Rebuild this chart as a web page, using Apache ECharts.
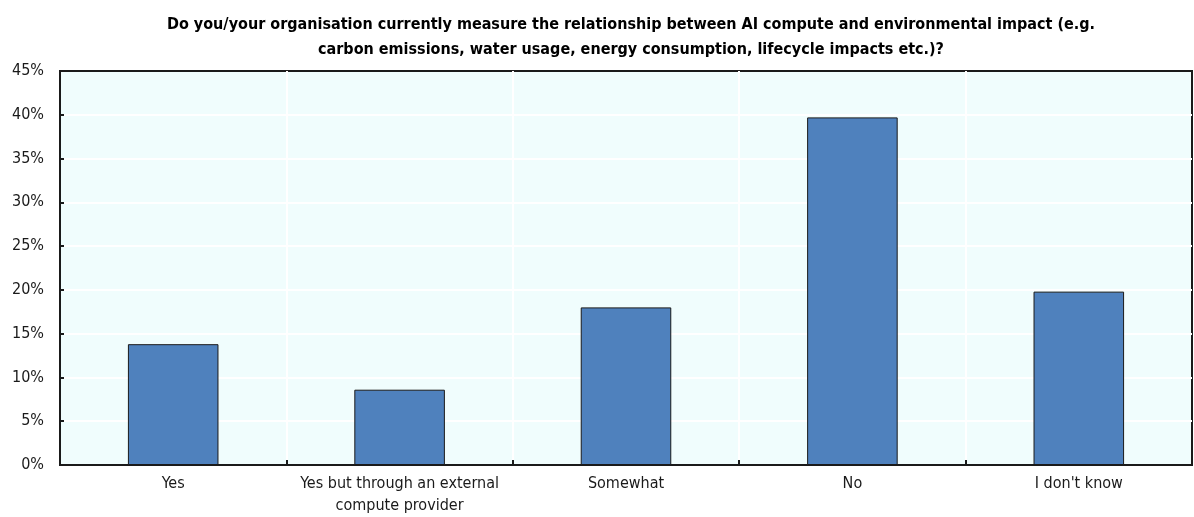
<!DOCTYPE html>
<html>
<head>
<meta charset="utf-8">
<script src="https://cdn.jsdelivr.net/npm/echarts@6/dist/echarts.min.js"></script>
<style>
  html, body { margin: 0; padding: 0; background: #ffffff; }
  #chart { width: 1194px; height: 517px; }
</style>
</head>
<body>
<div id="chart"></div>
<script>
// Survey answers and share of respondents (%)
const categories = [
  'Yes',
  'Yes but through an external\ncompute provider',
  'Somewhat',
  'No',
  "I don't know"
];
const shares = [13.8, 8.6, 18.0, 39.7, 19.8];
const yTicks = { min: 0, max: 45, interval: 5 };
const titleText = 'Do you/your organisation currently measure the relationship between AI compute and environmental impact (e.g.\ncarbon emissions, water usage, energy consumption, lifecycle impacts etc.)?';

const FONT = "'Liberation Sans Narrow', 'Arial Narrow', 'DejaVu Sans Condensed', sans-serif";

const chart = echarts.init(document.getElementById('chart'), null, { renderer: 'canvas' });
chart.setOption({
  backgroundColor: '#ffffff',
  animation: false,
  title: {
    text: titleText,
    left: 626,
    textAlign: 'center',
    top: 7,
    textStyle: {
      fontFamily: FONT,
      fontSize: 16,
      fontWeight: 'bold',
      color: '#000000',
      lineHeight: 25
    }
  },
  grid: {
    left: 60,
    right: 2,
    top: 71,
    bottom: 48,
    show: true,
    backgroundColor: '#f0fdfd',
    borderColor: '#1a1a1a',
    borderWidth: 2
  },
  xAxis: {
    type: 'category',
    data: categories,
    boundaryGap: true,
    axisLine: { show: true, lineStyle: { color: '#1a1a1a', width: 2 } },
    axisTick: { show: true, inside: true, length: 5, lineStyle: { color: '#1a1a1a', width: 2 } },
    axisLabel: {
      fontFamily: FONT,
      fontSize: 16,
      color: '#1a1a1a',
      margin: 8,
      lineHeight: 22,
      interval: 0
    },
    splitLine: { show: true, showMinLine: false, showMaxLine: false, lineStyle: { color: '#ffffff', width: 2 } }
  },
  yAxis: {
    type: 'value',
    min: yTicks.min,
    max: yTicks.max,
    interval: yTicks.interval,
    axisLine: { show: true, lineStyle: { color: '#1a1a1a', width: 2 } },
    axisTick: { show: true, inside: true, length: 4, lineStyle: { color: '#1a1a1a', width: 2 } },
    axisLabel: {
      fontFamily: FONT,
      fontSize: 16,
      color: '#1a1a1a',
      margin: 16,
      formatter: '{value}%'
    },
    splitLine: { show: true, showMinLine: false, showMaxLine: false, lineStyle: { color: '#ffffff', width: 2 } }
  },
  series: [{
    type: 'bar',
    data: shares,
    barWidth: '40%',
    itemStyle: {
      color: '#4f81bd',
      borderColor: '#1a1a1a',
      borderWidth: 1
    }
  }]
});
</script>
</body>
</html>
